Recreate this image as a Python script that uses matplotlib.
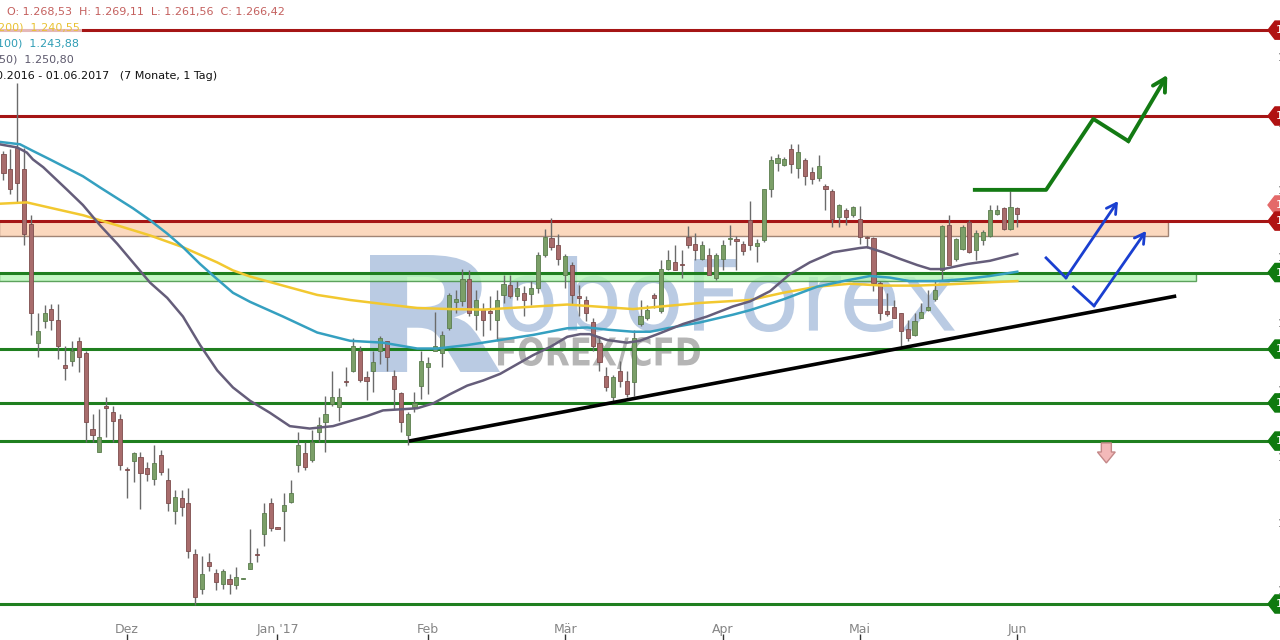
import numpy as np
import matplotlib
matplotlib.use("Agg")
import matplotlib.pyplot as plt
from matplotlib.patches import Rectangle, Polygon, PathPatch
from matplotlib.textpath import TextPath
from matplotlib.font_manager import FontProperties
from matplotlib.transforms import Affine2D, blended_transform_factory

# daily candles 07.11.2016 .. 01.06.2017 (index 0 = 07.11.2016)
opens = [1288.9, 1283.2, 1291.1, 1283.2, 1262.6, 1217.8, 1226.2, 1230.7, 1226.5, 1209.8,
         1211.3, 1218.6, 1214.4, 1185.9, 1177.1, 1194.2, 1192.0, 1189.3, 1170.7, 1173.7,
         1175.2, 1171.1, 1166.9, 1176.0, 1166.5, 1155.1, 1160.0, 1158.1, 1138.8, 1125.8,
         1135.7, 1131.9, 1127.7, 1129.6, 1127.4, 1129.6, 1133.1, 1138.8, 1146.4, 1158.1,
         1148.6, 1155.1, 1158.5, 1172.2, 1176.8, 1174.1, 1184.7, 1188.2, 1195.0, 1193.9,
         1203.4, 1207.5, 1215.1, 1205.3, 1207.5, 1214.8, 1218.6, 1205.6, 1199.2, 1183.6,
         1193.9, 1201.8, 1209.1, 1215.1, 1214.4, 1223.5, 1233.4, 1233.8, 1242.1, 1228.4,
         1230.3, 1229.6, 1226.5, 1236.0, 1239.8, 1235.7, 1236.8, 1236.4, 1238.7, 1250.9,
         1257.3, 1254.7, 1243.6, 1247.4, 1235.7, 1234.1, 1225.8, 1217.8, 1205.6, 1197.7,
         1207.5, 1203.7, 1203.4, 1225.0, 1227.3, 1236.0, 1230.0, 1245.9, 1248.2, 1247.4,
         1257.7, 1255.0, 1249.3, 1250.9, 1242.5, 1249.3, 1256.9, 1256.6, 1255.0, 1264.2,
         1254.3, 1256.6, 1275.6, 1285.4, 1284.7, 1290.8, 1283.5, 1286.6, 1282.0, 1279.7,
         1276.7, 1274.8, 1265.3, 1268.0, 1266.1, 1264.5, 1257.7, 1257.3, 1240.6, 1230.0,
         1231.5, 1229.2, 1223.1, 1220.8, 1227.3, 1230.3, 1234.5, 1245.2, 1262.3, 1249.3,
         1253.1, 1263.4, 1252.8, 1256.6, 1258.1, 1266.4, 1268.7, 1260.7, 1268.53]
highs = [1290.0, 1290.8, 1315.5, 1291.1, 1266.1, 1229.2, 1232.2, 1232.6, 1232.6, 1216.7,
         1218.6, 1220.1, 1215.1, 1191.2, 1193.1, 1197.7, 1194.2, 1191.2, 1171.4, 1177.1,
         1177.1, 1173.3, 1179.8, 1177.9, 1171.1, 1162.7, 1162.7, 1163.5, 1140.7, 1138.0,
         1139.1, 1133.1, 1133.4, 1131.2, 1133.8, 1129.8, 1148.3, 1141.0, 1157.8, 1160.0,
         1148.9, 1161.9, 1166.5, 1184.7, 1180.9, 1185.5, 1190.4, 1198.0, 1207.5, 1201.1,
         1209.1, 1219.7, 1216.7, 1207.5, 1215.1, 1220.5, 1218.9, 1207.9, 1199.6, 1192.0,
         1199.6, 1215.1, 1212.9, 1229.6, 1222.4, 1236.8, 1237.9, 1245.9, 1245.2, 1237.9,
         1233.0, 1235.7, 1237.9, 1243.6, 1243.6, 1241.4, 1239.5, 1241.4, 1252.0, 1260.7,
         1264.9, 1258.8, 1251.2, 1248.2, 1239.8, 1235.7, 1227.3, 1220.5, 1209.1, 1206.0,
         1211.3, 1207.5, 1222.7, 1234.1, 1232.2, 1236.8, 1249.0, 1252.8, 1254.7, 1252.8,
         1261.9, 1259.2, 1256.2, 1253.5, 1251.6, 1256.6, 1262.3, 1258.1, 1256.2, 1271.4,
         1256.9, 1275.9, 1288.1, 1288.9, 1287.7, 1292.7, 1292.7, 1287.3, 1283.9, 1288.5,
         1277.5, 1275.6, 1270.2, 1268.7, 1269.5, 1269.5, 1258.1, 1257.7, 1241.4, 1236.8,
         1234.1, 1229.2, 1226.5, 1229.2, 1233.0, 1237.9, 1241.4, 1262.3, 1266.1, 1257.3,
         1262.3, 1264.2, 1260.4, 1260.4, 1269.9, 1269.9, 1269.1, 1274.8, 1269.11]
lows = [1279.0, 1273.7, 1271.0, 1254.7, 1220.8, 1212.9, 1223.5, 1222.7, 1212.1, 1204.1,
        1209.4, 1207.2, 1180.9, 1180.9, 1177.1, 1182.8, 1180.9, 1170.3, 1159.7, 1165.7,
        1155.9, 1166.1, 1164.6, 1168.4, 1155.1, 1150.2, 1153.2, 1137.2, 1119.8, 1123.9,
        1132.3, 1125.5, 1125.8, 1123.9, 1125.8, 1129.4, 1133.1, 1135.7, 1141.8, 1147.5,
        1148.2, 1143.7, 1158.1, 1169.5, 1170.3, 1173.3, 1180.9, 1177.1, 1194.2, 1188.7,
        1201.8, 1207.2, 1203.4, 1196.5, 1199.6, 1210.2, 1207.5, 1193.1, 1184.7, 1179.8,
        1192.0, 1196.9, 1198.8, 1215.1, 1209.1, 1222.7, 1229.2, 1231.9, 1228.1, 1222.7,
        1220.5, 1222.7, 1218.9, 1233.0, 1234.9, 1234.1, 1228.1, 1232.2, 1236.8, 1250.1,
        1252.8, 1247.4, 1238.7, 1232.2, 1228.1, 1226.2, 1215.1, 1207.5, 1199.9, 1196.1,
        1201.5, 1197.7, 1198.0, 1224.3, 1226.5, 1231.1, 1229.2, 1245.2, 1245.2, 1242.5,
        1253.5, 1249.0, 1249.0, 1243.3, 1241.7, 1245.5, 1254.7, 1245.2, 1250.9, 1252.8,
        1248.2, 1255.8, 1272.9, 1282.4, 1284.3, 1281.6, 1279.7, 1277.1, 1277.5, 1278.6,
        1268.0, 1261.5, 1261.5, 1262.3, 1265.3, 1255.0, 1253.5, 1237.6, 1226.5, 1228.1,
        1227.3, 1216.7, 1218.6, 1220.5, 1227.3, 1230.0, 1233.8, 1241.7, 1247.1, 1248.6,
        1252.8, 1251.6, 1249.0, 1254.7, 1257.7, 1266.1, 1260.4, 1260.4, 1261.56]
closes = [1281.6, 1275.9, 1277.8, 1258.8, 1229.2, 1222.4, 1229.2, 1226.5, 1217.0, 1208.7,
          1215.1, 1212.9, 1188.2, 1183.6, 1182.8, 1193.5, 1188.9, 1172.2, 1170.5, 1176.8,
          1169.2, 1168.8, 1173.0, 1169.5, 1158.1, 1160.4, 1156.6, 1139.9, 1122.8, 1131.2,
          1134.2, 1128.5, 1132.3, 1127.7, 1130.4, 1129.6, 1135.3, 1138.6, 1154.3, 1148.6,
          1148.4, 1157.4, 1161.9, 1179.8, 1171.4, 1180.9, 1187.4, 1191.2, 1197.7, 1197.7,
          1203.2, 1217.0, 1204.1, 1203.7, 1211.0, 1219.7, 1212.9, 1200.7, 1188.5, 1191.2,
          1195.4, 1211.3, 1210.6, 1216.7, 1220.8, 1236.0, 1234.5, 1242.1, 1229.2, 1234.1,
          1226.5, 1229.4, 1234.1, 1240.2, 1235.7, 1238.7, 1234.1, 1238.7, 1250.9, 1257.7,
          1253.9, 1249.3, 1250.5, 1236.0, 1234.9, 1229.2, 1216.7, 1211.0, 1201.5, 1205.3,
          1203.7, 1198.8, 1219.7, 1228.1, 1230.3, 1234.9, 1245.9, 1249.0, 1245.5, 1247.2,
          1254.7, 1252.8, 1254.7, 1243.3, 1250.9, 1254.7, 1257.1, 1256.4, 1252.4, 1254.7,
          1255.4, 1275.6, 1286.6, 1287.3, 1287.0, 1285.1, 1289.6, 1280.5, 1279.4, 1284.3,
          1275.6, 1264.5, 1269.9, 1265.3, 1269.1, 1257.7, 1257.5, 1240.6, 1229.2, 1228.8,
          1227.3, 1222.4, 1219.7, 1226.2, 1229.6, 1231.5, 1237.9, 1261.9, 1247.4, 1256.9,
          1261.5, 1252.0, 1259.2, 1259.6, 1268.0, 1268.0, 1260.7, 1269.1, 1266.42]

month_idx = [18, 40, 62, 82, 105, 125, 148]
month_labels = ["Dez", "Jan '17", "Feb", "Mär", "Apr", "Mai", "Jun"]

# moving averages, read at candle positions
ma50_x = [-0.6, 2.0, 3.4, 4.3, 5.8, 9.3, 11.6, 14.1, 16.6, 18.9, 21.4, 23.9, 26.2, 28.7,
          31.2, 33.5, 36.0, 38.9, 41.8, 44.7, 48.1, 50.6, 53.1, 55.4, 57.9, 60.4, 62.7,
          65.2, 67.7, 70.0, 72.5, 77.3, 79.8, 82.3, 84.2, 85.6, 88.1, 91.0, 92.9, 95.8,
          99.2, 102.7, 106.5, 109.0, 111.9, 114.8, 117.7, 121.1, 125.0, 126.1, 128.4,
          130.9, 133.4, 135.3, 137.2, 140.7, 144.0, 148.0]
ma50_y = [1292.5, 1291.3, 1289.4, 1286.8, 1283.9, 1275.4, 1269.7, 1262.1, 1255.2, 1248.2,
          1240.6, 1234.9, 1227.9, 1217.2, 1207.7, 1201.3, 1196.3, 1191.8, 1186.8, 1185.9,
          1186.8, 1188.7, 1190.6, 1192.7, 1193.1, 1193.5, 1195.3, 1198.8, 1202.0, 1203.9,
          1206.4, 1213.4, 1216.5, 1220.3, 1221.3, 1221.3, 1219.1, 1218.1, 1218.8, 1221.6,
          1225.1, 1227.9, 1231.7, 1233.6, 1237.4, 1243.8, 1248.2, 1252.0, 1253.6, 1253.9,
          1252.0, 1249.5, 1247.2, 1245.7, 1245.7, 1247.6, 1248.8, 1251.4]
ma100_x = [-0.6, 2.4, 4.3, 6.8, 11.6, 14.1, 18.9, 21.4, 23.9, 26.2, 28.7, 31.2, 33.5, 36.0,
           40.8, 45.8, 50.6, 55.4, 60.4, 63.3, 67.7, 72.5, 77.3, 82.3, 85.2, 88.5, 91.9,
           94.4, 96.9, 101.7, 106.5, 109.0, 113.8, 118.8, 122.6, 126.5, 129.4, 132.3,
           136.3, 140.1, 144.0, 148.0]
ma100_y = [1293.4, 1292.5, 1290.0, 1286.8, 1280.5, 1276.3, 1268.5, 1264.0, 1259.0, 1253.9,
           1247.6, 1241.9, 1236.8, 1233.4, 1227.9, 1221.9, 1218.8, 1218.1, 1215.9, 1215.9,
           1217.2, 1219.1, 1221.0, 1223.5, 1223.8, 1222.9, 1222.2, 1222.2, 1223.5, 1225.7,
           1228.6, 1230.3, 1234.3, 1239.1, 1241.2, 1243.1, 1242.5, 1241.2, 1241.2, 1241.9,
           1243.1, 1244.7]
ma200_x = [-0.6, 3.4, 6.8, 11.6, 16.6, 21.4, 26.2, 31.2, 33.5, 36.0, 40.8, 45.8, 50.6,
           55.4, 60.4, 65.2, 70.0, 74.0, 82.3, 91.9, 101.7, 109.0, 113.8, 118.8, 123.6,
           128.4, 133.4, 138.2, 143.0, 148.0]
ma200_y = [1270.2, 1270.7, 1268.7, 1265.9, 1262.1, 1258.3, 1253.9, 1248.2, 1245.2, 1242.9,
           1239.5, 1236.0, 1234.1, 1232.6, 1231.1, 1230.7, 1230.5, 1231.1, 1232.4, 1230.7,
           1233.0, 1234.1, 1236.8, 1239.1, 1240.2, 1239.5, 1239.5, 1240.0, 1240.6, 1241.2]

red_levels = [1335.3, 1303.1, 1263.7]
green_levels = [1244.4, 1215.7, 1195.5, 1181.2, 1120.1]
resist_zone = [1258.1, 1263.7]
support_zone = [1241.2, 1244.4]
current_price = 1266.42
price_ticks = [1350, 1325, 1300, 1275, 1250, 1225, 1200, 1175, 1150, 1125]

trend_x = [59.2, 171.2]
trend_y = [1181.2, 1235.6]
green_path_x = [141.8, 152.2, 159.1, 164.2, 169.9]
green_path_y = [1275.4, 1275.4, 1302.0, 1293.7, 1318.5]
blue1_x = [152.2, 155.1, 162.7]
blue1_y = [1249.9, 1242.4, 1271.2]
blue2_x = [156.2, 159.2, 166.8]
blue2_y = [1239.0, 1231.9, 1260.0]
down_arrow_x = 161.0
down_arrow_y = [1180.5, 1177.1, 1173.0]

W, H = 1280, 640
fig = plt.figure(figsize=(12.8, 6.4), dpi=100)
ax = fig.add_axes([0, 0, 1, 1])
ax.set_xlim(-0.51, 186.35)
ax.set_ylim(1106.6, 1346.6)
for s in ax.spines.values():
    s.set_visible(False)
ax.set_yticks([])
ax.set_xticks(month_idx)
ax.set_xticklabels(month_labels)
ax.tick_params(axis="x", direction="in", length=4, width=1, color="#333333",
               pad=-12.5, labelsize=9, labelcolor="#858585")

bt = blended_transform_factory(ax.transAxes, ax.transData)


def box_text(s, left, top, right, bottom, color, weight="normal", alpha=1.0, z=1):
    tp = TextPath((0, 0), s, size=100, prop=FontProperties(family="DejaVu Sans", weight=weight))
    bb = tp.get_extents()
    tr = (Affine2D().translate(-bb.x0, -bb.y0)
          .scale((right - left) / bb.width / W, (bottom - top) / bb.height / H)
          .translate(left / W, 1 - bottom / H))
    ax.add_artist(PathPatch(tr.transform_path(tp), fc=color, ec="none", alpha=alpha,
                            transform=fig.transFigure, zorder=z))


# watermark
box_text("R", 370, 255, 500, 372, "#a9bfdc", weight="bold", alpha=0.8, z=1)
box_text("oboForex", 503, 256, 955, 332, "#a9bfdc", alpha=0.8, z=1)
box_text("FOREX/CFD", 498, 337, 700, 369, "#a8a8a8", weight="bold", alpha=0.85, z=1)

# zones
x_left = -0.6
ax.add_patch(Rectangle((x_left, resist_zone[0]), 170.0 - x_left, resist_zone[1] - resist_zone[0],
                       fc="#fbcfae", ec="#8a6a5a", lw=1, alpha=0.8, zorder=2))
ax.add_patch(Rectangle((x_left, support_zone[0]), 174.1 - x_left, support_zone[1] - support_zone[0],
                       fc="#b6f5b6", ec="#3c8c3c", lw=1, alpha=0.8, zorder=2))

# horizontal levels
line_end = 184.6
for lv in red_levels:
    ax.plot([x_left, line_end], [lv, lv], color="#a51515", lw=2.2, zorder=3)
for lv in green_levels:
    ax.plot([x_left, line_end], [lv, lv], color="#1f7f1f", lw=2.2, zorder=3)

# candles
o = np.array(opens)
h = np.array(highs)
l = np.array(lows)
c = np.array(closes)
idx = np.arange(len(o))
up = c >= o
ax.vlines(idx, l, h, color="#6b6b6b", lw=1, zorder=4)
body_lo = np.minimum(o, c)
body_h = np.maximum(np.abs(c - o), 0.4)
ax.bar(idx[up], body_h[up], bottom=body_lo[up], width=0.6, color="#7b9f68",
       edgecolor="#5a7d4d", lw=0.6, zorder=5)
ax.bar(idx[~up], body_h[~up], bottom=body_lo[~up], width=0.6, color="#a86c6c",
       edgecolor="#7d4c4c", lw=0.6, zorder=5)

# moving averages
ax.plot(ma200_x, ma200_y, color="#f2c830", lw=1.8, zorder=6)
ax.plot(ma100_x, ma100_y, color="#35a0c0", lw=1.8, zorder=6)
ax.plot(ma50_x, ma50_y, color="#655d7a", lw=1.8, zorder=6)

# drawings
ax.plot(trend_x, trend_y, color="black", lw=2.6, solid_capstyle="butt", zorder=7)
ax.plot(green_path_x[:-1], green_path_y[:-1], color="#137a13", lw=2.8, zorder=7)
ax.annotate("", xy=(green_path_x[-1], green_path_y[-1]),
            xytext=(green_path_x[-2], green_path_y[-2]),
            arrowprops=dict(arrowstyle="->,head_length=0.9,head_width=0.5",
                            color="#137a13", lw=2.8, shrinkA=0, shrinkB=0), zorder=7)
for bx, by in [(blue1_x, blue1_y), (blue2_x, blue2_y)]:
    ax.plot(bx[:-1], by[:-1], color="#1a3fd0", lw=2, zorder=7)
    ax.annotate("", xy=(bx[-1], by[-1]), xytext=(bx[-2], by[-2]),
                arrowprops=dict(arrowstyle="->,head_length=0.7,head_width=0.4",
                                color="#1a3fd0", lw=2, shrinkA=0, shrinkB=0), zorder=7)

dx = 0.73  # shaft half width in candles
ax.add_patch(Polygon([(down_arrow_x - dx, down_arrow_y[0]), (down_arrow_x + dx, down_arrow_y[0]),
                      (down_arrow_x + dx, down_arrow_y[1]), (down_arrow_x + 1.3, down_arrow_y[1]),
                      (down_arrow_x, down_arrow_y[2]), (down_arrow_x - 1.3, down_arrow_y[1]),
                      (down_arrow_x - dx, down_arrow_y[1])],
                     closed=True, fc="#f3b9b9", ec="#c48888", lw=1, zorder=7))


# price tags at the right edge
def tag(price, color, z=8):
    hh = 3.4
    pts = [(1268 / W, price), (1275 / W, price + hh), (1.01, price + hh),
           (1.01, price - hh), (1275 / W, price - hh)]
    ax.add_patch(Polygon(pts, closed=True, fc=color, ec=color, transform=bt, zorder=z,
                         clip_on=False))
    ax.text(1276 / W, price, "1", color="white", fontsize=8, va="center", ha="left",
            transform=bt, zorder=z + 0.5)


tag(current_price + 3.3, "#e46a6a", z=8)
for lv in red_levels:
    tag(lv, "#b01212", z=9)
for lv in green_levels:
    tag(lv, "#0f7a0f", z=9)

for p in price_ticks:
    ax.text(1278 / W, p, "1.%d,00" % p, color="#555555", fontsize=8, va="center",
            ha="left", transform=bt, zorder=3)

# info text in the upper left corner
def info(x, y, s, color):
    fig.text(x / W, 1 - y / H, s, color=color, fontsize=8, va="center", ha="left",
             family="DejaVu Sans", zorder=20,
             bbox=dict(fc="white", ec="none", alpha=0.7, pad=1.5))


info(7, 12, "O: 1.268,53  H: 1.269,11  L: 1.261,56  C: 1.266,42", "#c4605e")
info(-2, 28, "200)  1.240,55", "#e9c233")
info(-3, 44, "100)  1.243,88", "#2f9db5")
info(-1, 60, "50)  1.250,80", "#5e5a6e")
info(-4, 76, "0.2016 - 01.06.2017   (7 Monate, 1 Tag)", "#111111")

fig.savefig("out.png", dpi=100)
